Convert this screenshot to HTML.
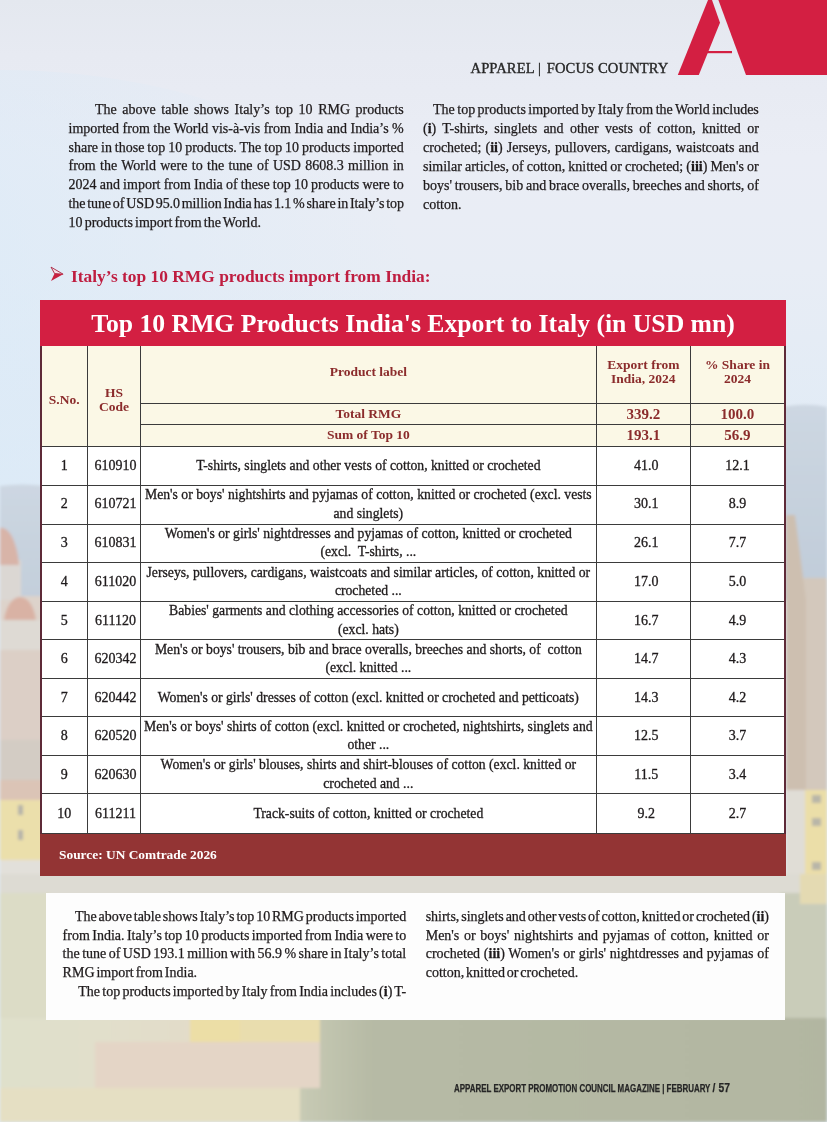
<!DOCTYPE html>
<html lang="en">
<head>
<meta charset="utf-8">
<title>Apparel | Focus Country – Italy</title>
<style>
html,body{margin:0;padding:0;}
body{width:827px;height:1122px;position:relative;overflow:hidden;background:#e3e9f0;
  font-family:"Liberation Serif",serif;color:#231f20;}
.bg{position:absolute;left:0;top:0;width:827px;height:1122px;}
.logo{position:absolute;left:0;top:0;}
.kicker{position:absolute;left:470.5px;top:57.8px;font-size:14.6px;line-height:20px;letter-spacing:0.1px;color:#262626;white-space:nowrap;-webkit-text-stroke:0.35px #262626;}
.kicker i{font-style:normal;margin:0 2px 0 0;}
.col{position:absolute;color:#1f1b1c;-webkit-text-stroke:0.25px #1f1b1c;}
.col .l{display:block;white-space:nowrap;text-align:justify;text-align-last:justify;}
.col .l.e{text-align-last:left;}
.h2{position:absolute;left:49px;top:264.5px;font-size:17.4px;line-height:22px;font-weight:bold;color:#bf1d40;white-space:nowrap;}
.h2 svg{position:absolute;left:0px;top:1.5px;}
.h2 .t{position:absolute;left:22px;top:0;}
.tbl{position:absolute;left:40px;top:300px;width:746px;height:576px;background:#5e2a38;}
.tt{position:absolute;left:0;top:0;width:746px;height:46.4px;background:#d31f42;color:#fff;font-weight:bold;font-size:25.7px;text-align:center;line-height:48px;white-space:nowrap;}
table.d{position:absolute;left:1.5px;top:46.4px;width:742.5px;border-collapse:collapse;table-layout:fixed;background:#fff;font-size:14px;}
table.d td,table.d th{border:1px solid #3b3b3b;padding:0;text-align:center;vertical-align:middle;overflow:hidden;}
table.d tr:first-child th{border-top:0;}
table.d tr > :first-child{border-left:0;}
table.d tr > :last-child{border-right:0;}
table.d th{background:#fbf8e6;color:#8b2c2c;font-weight:bold;font-size:13.5px;line-height:14px;}
table.d th.v{font-size:15px;}
table.d td{line-height:18.4px;color:#1f1b1c;-webkit-text-stroke:0.3px #1f1b1c;}
table.d td.p{padding:0;white-space:nowrap;font-size:13.7px;}
.src{position:absolute;left:0;top:534px;width:746px;height:42px;background:#933434;}
.src span{position:absolute;left:19px;top:12px;color:#fff;font-weight:bold;font-size:13.4px;line-height:18px;white-space:nowrap;}
.box{position:absolute;left:45.7px;top:893px;width:739.3px;height:127.3px;background:#fdfdfd;}
.foot{position:absolute;left:453.5px;top:1080px;font-family:"Liberation Sans",sans-serif;font-weight:bold;font-size:10.5px;line-height:16px;color:#262626;white-space:nowrap;transform-origin:0 0;transform:scaleX(0.756);-webkit-text-stroke:0.25px #262626;}
.foot .n{font-size:13.6px;letter-spacing:0.2px;}

table.d th.rs{padding-top:7px;}
table.d th.top{padding-bottom:5px;}

table.d tr > td:nth-child(2){padding-left:3px;}
table.d tr > td:nth-child(4){padding-left:6px;}

</style>
</head>
<body>
<svg class="bg" width="827" height="1122" viewBox="0 0 827 1122">
  <defs>
    <linearGradient id="sky" x1="0" y1="0" x2="0" y2="1">
      <stop offset="0" stop-color="#e4e8ef"/>
      <stop offset="0.05" stop-color="#e7eaf2"/>
      <stop offset="0.14" stop-color="#eaedf5"/>
      <stop offset="0.24" stop-color="#e8edf5"/>
      <stop offset="0.3" stop-color="#e5ecf5"/>
      <stop offset="0.42" stop-color="#e0ebf6"/>
      <stop offset="1" stop-color="#e0ebf6"/>
    </linearGradient>
    <radialGradient id="lb" cx="0" cy="0.5" r="1">
      <stop offset="0" stop-color="#d9eaf8" stop-opacity="1"/>
      <stop offset="0.5" stop-color="#d9eaf8" stop-opacity="0.6"/>
      <stop offset="1" stop-color="#d9eaf8" stop-opacity="0"/>
    </radialGradient>
    <linearGradient id="hill" x1="0" y1="0" x2="0" y2="1">
      <stop offset="0" stop-color="#cdd7e2"/>
      <stop offset="1" stop-color="#bfcbd8"/>
    </linearGradient>
    <linearGradient id="trees" x1="0" y1="0" x2="1" y2="0">
      <stop offset="0" stop-color="#dfe0cb"/>
      <stop offset="0.12" stop-color="#e1dfcb"/>
      <stop offset="0.3" stop-color="#e3dac7"/>
      <stop offset="0.37" stop-color="#c6c9b3"/>
      <stop offset="0.45" stop-color="#b6baa5"/>
      <stop offset="1" stop-color="#b2b6a1"/>
    </linearGradient>
    <filter id="bl" x="-10%" y="-10%" width="120%" height="120%"><feGaussianBlur stdDeviation="1.5"/></filter>
  </defs>
  <rect x="0" y="0" width="827" height="1122" fill="url(#sky)"/>
  <ellipse cx="0" cy="300" rx="420" ry="230" fill="url(#lb)"/>
  <g filter="url(#bl)">
  <!-- hills -->
  <path d="M0,486 C15,484 30,484 45,486 L45,640 L0,640 Z" fill="url(#hill)"/>
  <path d="M780,408 C795,404 812,404 827,407 L827,600 L780,600 Z" fill="url(#hill)"/>
  <!-- left city -->
  <rect x="0" y="596" width="45" height="200" fill="#ddd3cb"/>
  <rect x="0" y="560" width="21" height="40" fill="#dbd7d3"/>
  <path d="M0,565 L0,528 C8,526 17,540 19,565 Z" fill="#d8b4a8"/>
  <path d="M4,620 C6,604 14,597 20,597 C28,597 34,606 36,620 Z" fill="#d9b2a4"/>
  <rect x="0" y="620" width="45" height="30" fill="#dedad4"/>
  <rect x="0" y="650" width="45" height="90" fill="#dccfc6"/>
  <rect x="0" y="740" width="45" height="40" fill="#d3ccc4"/>
  <rect x="0" y="780" width="45" height="20" fill="#dbc4b6"/>
  <rect x="0" y="800" width="45" height="60" fill="#ebdfab"/>
  <rect x="18" y="805" width="5" height="10" fill="#b6b4aa"/>
  <rect x="18" y="830" width="5" height="10" fill="#b6b4aa"/>
  <rect x="0" y="860" width="45" height="20" fill="#e2e0da"/>
  <!-- right tower & buildings -->
  <rect x="786" y="578" width="41" height="212" fill="#d3c8bc"/>
  <path d="M786,515 L795,515 L806,600 L806,790 L786,790 Z" fill="#cdbfb0"/>
  <rect x="805" y="790" width="22" height="110" fill="#ebdea8"/>
  <rect x="786" y="790" width="19" height="110" fill="#e0ddd6"/>
  <rect x="812" y="795" width="9" height="8" fill="#b9b6a8"/>
  <rect x="812" y="818" width="9" height="8" fill="#b9b6a8"/>
  <rect x="812" y="862" width="9" height="8" fill="#b9b6a8"/>
  <!-- lower band -->
  <rect x="0" y="874" width="827" height="22" fill="#dddbd3"/>
  <rect x="0" y="893" width="50" height="130" fill="#dcdcc6"/>
  <rect x="780" y="893" width="47" height="130" fill="#c9ccb9"/>
  <rect x="800" y="874" width="27" height="30" fill="#e4dab2"/>
  <rect x="0" y="1018" width="827" height="104" fill="url(#trees)"/>
  <rect x="190" y="1018" width="50" height="42" fill="#ecdea6"/>
  <rect x="240" y="1018" width="80" height="28" fill="#e9ddae"/>
  <rect x="95" y="1042" width="225" height="46" fill="#e4d5c6"/>
  <rect x="0" y="1088" width="300" height="34" fill="#e5dfc3"/>
  </g>
</svg>

<svg class="logo" width="827" height="80" viewBox="0 0 827 80">
  <polygon points="677.8,75 698.8,75 720,22.8 712,0 708,0" fill="#d31f42"/>
  <polygon points="718.4,0 827,0 827,75 746,75" fill="#d31f42"/>
  <rect x="707" y="51" width="25" height="2.2" fill="#d31f42"/>
</svg>

<div class="kicker">APPAREL <i>|</i> FOCUS COUNTRY</div>

<div class="box"></div>

<div class="col" id="c1" style="left:68.5px;top:100.85px;width:335.3px;font-size:14px;line-height:18.85px;">
<span class="l" style="padding-left:26.5px">The above table shows Italy’s top 10 RMG products</span>
<span class="l" style="word-spacing:-0.08px">imported from the World vis-à-vis from India and India’s %</span>
<span class="l" style="word-spacing:-0.66px">share in those top 10 products. The top 10 products imported</span>
<span class="l">from the World were to the tune of USD 8608.3 million in</span>
<span class="l" style="word-spacing:-0.41px">2024 and import from India of these top 10 products were to</span>
<span class="l" style="word-spacing:-1.60px;letter-spacing:-0.096px">the tune of USD 95.0 million India has 1.1 % share in Italy’s top</span>
<span class="l e" style="word-spacing:-1.35px">10 products import from the World.</span>
</div>
<div class="col" id="c2" style="left:423px;top:100.80px;width:335.8px;font-size:14px;line-height:18.95px;">
<span class="l" style="padding-left:10px;word-spacing:-1.08px">The top products imported by Italy from the World includes</span>
<span class="l">(<b>i</b>) T-shirts, singlets and other vests of cotton, knitted or</span>
<span class="l">crocheted; (<b>ii</b>) Jerseys, pullovers, cardigans, waistcoats and</span>
<span class="l" style="word-spacing:-0.49px">similar articles, of cotton, knitted or crocheted; (<b>iii</b>) Men's or</span>
<span class="l" style="word-spacing:-0.79px">boys' trousers, bib and brace overalls, breeches and shorts, of</span>
<span class="l e">cotton.</span>
</div>
<div class="col" id="c3" style="left:62.6px;top:907.90px;width:343.6px;font-size:14px;line-height:18.75px;">
<span class="l" style="padding-left:12.3px;word-spacing:-1.60px;letter-spacing:-0.020px">The above table shows Italy’s top 10 RMG products imported</span>
<span class="l" style="word-spacing:-1.10px">from India. Italy’s top 10 products imported from India were to</span>
<span class="l" style="word-spacing:-1.08px">the tune of USD 193.1 million with 56.9 % share in Italy’s total</span>
<span class="l e" style="word-spacing:-1.57px">RMG import from India.</span>
<span class="l" style="padding-left:15.7px;word-spacing:-1.31px">The top products imported by Italy from India includes (<b>i</b>) T-</span>
</div>
<div class="col" id="c4" style="left:425.7px;top:907.90px;width:343.2px;font-size:14px;line-height:18.75px;">
<span class="l" style="word-spacing:-1.60px;letter-spacing:-0.038px">shirts, singlets and other vests of cotton, knitted or crocheted (<b>ii</b>)</span>
<span class="l">Men's or boys' nightshirts and pyjamas of cotton, knitted or</span>
<span class="l">crocheted (<b>iii</b>) Women's or girls' nightdresses and pyjamas of</span>
<span class="l e" style="word-spacing:-1.65px">cotton, knitted or crocheted.</span>
</div>

<div class="h2"><svg width="15" height="16" viewBox="0 0 15 16"><path d="M2,1.1 L14.1,8.2 L5.6,7.6 Z" fill="#f6dfe6" stroke="#a8233f" stroke-width="0.9" stroke-linejoin="round"/><path d="M5.6,7.6 L14.1,8.2 L2,14.9 Z" fill="#c8203f"/></svg><span class="t">Italy’s top 10 RMG products import from India:</span></div>

<div class="tbl">
  <div class="tt">Top 10 RMG Products India's Export to Italy (in USD mn)</div>
  <table class="d">
    <colgroup><col style="width:46px"><col style="width:53px"><col style="width:455.7px"><col style="width:94.3px"><col style="width:93.5px"></colgroup>
    <tr style="height:56.8px"><th rowspan="3" class="rs">S.No.</th><th rowspan="3" class="rs">HS<br>Code</th><th class="top">Product label</th><th class="top">Export from<br>India, 2024</th><th class="top">% Share in<br>2024</th></tr>
    <tr style="height:21.4px"><th class="s">Total RMG</th><th class="v">339.2</th><th class="v">100.0</th></tr>
    <tr style="height:21.8px"><th class="s">Sum of Top 10</th><th class="v">193.1</th><th class="v">56.9</th></tr>
    <tr style="height:38.9px"><td>1</td><td>610910</td><td class="p">T-shirts, singlets and other vests of cotton, knitted or crocheted</td><td>41.0</td><td>12.1</td></tr>
    <tr style="height:38.8px"><td>2</td><td>610721</td><td class="p">Men's or boys' nightshirts and pyjamas of cotton, knitted or crocheted (excl. vests<br>and singlets)</td><td>30.1</td><td>8.9</td></tr>
    <tr style="height:38.5px"><td>3</td><td>610831</td><td class="p">Women's or girls' nightdresses and pyjamas of cotton, knitted or crocheted<br>(excl.&nbsp; T-shirts, ...</td><td>26.1</td><td>7.7</td></tr>
    <tr style="height:38.9px"><td>4</td><td>611020</td><td class="p">Jerseys, pullovers, cardigans, waistcoats and similar articles, of cotton, knitted or<br>crocheted ...</td><td>17.0</td><td>5.0</td></tr>
    <tr style="height:38.5px"><td>5</td><td>611120</td><td class="p">Babies' garments and clothing accessories of cotton, knitted or crocheted<br>(excl. hats)</td><td>16.7</td><td>4.9</td></tr>
    <tr style="height:38.5px"><td>6</td><td>620342</td><td class="p">Men's or boys' trousers, bib and brace overalls, breeches and shorts, of&nbsp; cotton<br>(excl. knitted ...</td><td>14.7</td><td>4.3</td></tr>
    <tr style="height:38.5px"><td>7</td><td>620442</td><td class="p">Women's or girls' dresses of cotton (excl. knitted or crocheted and petticoats)</td><td>14.3</td><td>4.2</td></tr>
    <tr style="height:38.5px"><td>8</td><td>620520</td><td class="p">Men's or boys' shirts of cotton (excl. knitted or crocheted, nightshirts, singlets and<br>other ...</td><td>12.5</td><td>3.7</td></tr>
    <tr style="height:38.5px"><td>9</td><td>620630</td><td class="p">Women's or girls' blouses, shirts and shirt-blouses of cotton (excl. knitted or<br>crocheted and ...</td><td>11.5</td><td>3.4</td></tr>
    <tr style="height:40px"><td>10</td><td>611211</td><td class="p">Track-suits of cotton, knitted or crocheted</td><td>9.2</td><td>2.7</td></tr>
  </table>
  <div class="src"><span>Source: UN Comtrade 2026</span></div>
</div>

<div class="foot">APPAREL EXPORT PROMOTION COUNCIL MAGAZINE | FEBRUARY <span class="n">/ 57</span></div>

</body>
</html>
